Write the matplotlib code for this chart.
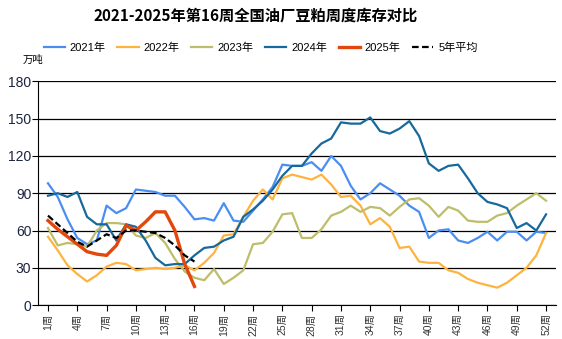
"""
plot.py

Weekly soybean meal stock at national oil mills, 2021-2025 (week 16).
"""

import matplotlib

matplotlib.use("Agg")

import matplotlib.pyplot as plt


plt.rcParams["font.family"] = ["Liberation Sans", "Noto Sans CJK SC", "DejaVu Sans"]

weeks_2021 = list(range(1, 53))
stock_2021 = [
    98, 87, 69, 54, 49, 52, 80, 74, 78, 93, 92, 91, 88, 88, 79, 69, 70, 68,
    82, 68, 67, 76, 85, 95, 113, 112, 112, 115, 108, 120, 112, 96, 85, 90,
    98, 93, 88, 80, 75, 54, 60, 61, 52, 50, 54, 59, 52, 59, 59, 52, 59, 58,
]

weeks_2022 = list(range(1, 53))
stock_2022 = [
    55, 44, 32, 25, 19, 24, 31, 34, 33, 28, 29, 30, 29, 30, 32, 28, 34, 42,
    56, 57, 71, 84, 93, 85, 102, 105, 103, 101, 105, 97, 87, 88, 80, 65,
    70, 63, 46, 47, 35, 34, 34, 28, 26, 21, 18, 16, 14, 18, 24, 30, 40, 58,
]

weeks_2023 = list(range(1, 53))
stock_2023 = [
    62, 48, 50, 49, 47, 60, 66, 66, 65, 56, 54, 58, 50, 37, 27, 22, 20, 29,
    17, 22, 28, 49, 50, 59, 73, 74, 54, 54, 61, 72, 75, 80, 75, 79, 78, 72,
    79, 85, 86, 80, 71, 79, 76, 68, 67, 67, 72, 74, 80, 85, 90, 84,
]

weeks_2024 = list(range(1, 53))
stock_2024 = [
    88, 90, 87, 91, 71, 65, 65, 52, 65, 63, 52, 38, 32, 33, 33, 40, 46, 47,
    52, 55, 71, 77, 84, 93, 104, 112, 112, 122, 130, 134, 147, 146, 146,
    151, 140, 138, 142, 148, 136, 114, 108, 112, 113, 102, 90, 83, 81, 78,
    62, 66, 60, 73,
]

weeks_2025 = list(range(1, 17))
stock_2025 = [68, 61, 55, 49, 43, 41, 40, 48, 64, 60, 67, 75, 75, 60, 33, 15]

weeks_avg = list(range(1, 17))
stock_avg = [72, 65, 58, 51, 47, 52, 57, 54, 60, 60, 59, 58, 54, 48, 40, 35]

tick_weeks = list(range(1, 53, 3))
tick_labels = [f"{w}周" for w in tick_weeks]
y_ticks = [0, 30, 60, 90, 120, 150, 180]


def plot_stock_chart():
    """
    Draw the five yearly curves plus the 5-year average and save out.png.
    """

    fig = plt.figure(figsize=(5.62, 3.39), dpi=100)
    ax = fig.add_axes([0.068, 0.100, 0.921, 0.660])

    ax.plot(weeks_2021, stock_2021, color="#4a8ef2", linewidth=1.6, label="2021年")
    ax.plot(weeks_2022, stock_2022, color="#ffb33f", linewidth=1.6, label="2022年")
    ax.plot(weeks_2023, stock_2023, color="#bdbd6c", linewidth=1.6, label="2023年")
    ax.plot(weeks_2024, stock_2024, color="#17699c", linewidth=1.6, label="2024年")
    ax.plot(weeks_2025, stock_2025, color="#e2480c", linewidth=2.4, label="2025年")
    ax.plot(
        weeks_avg,
        stock_avg,
        color="black",
        linewidth=1.6,
        linestyle=(0, (3, 1.5)),
        label="5年平均",
    )

    ax.set_xlim(0, 53)
    ax.set_ylim(0, 180)

    ax.set_yticks(y_ticks)
    ax.set_xticks(tick_weeks)
    ax.set_xticklabels(tick_labels, rotation=90, fontsize=7.5, color="#333333")

    ax.tick_params(axis="y", labelsize=10, labelcolor="#1c2440", length=4, width=0.8, pad=1)
    ax.tick_params(axis="x", length=4, width=0.8, pad=2)

    ax.grid(True, axis="y", color="black", linewidth=0.9)
    ax.set_axisbelow(True)

    for side in ["top", "right"]:
        ax.spines[side].set_visible(False)
    ax.spines["left"].set_color("black")
    ax.spines["bottom"].set_color("black")

    fig.text(
        0.455,
        0.955,
        "2021-2025年第16周全国油厂豆粕周度库存对比",
        ha="center",
        va="center",
        fontsize=11,
        fontweight="bold",
        family=["Noto Sans CJK SC", "DejaVu Sans"],
    )

    fig.text(0.041, 0.822, "万吨", ha="left", va="center", fontsize=7.5)

    fig.legend(
        loc="center left",
        bbox_to_anchor=(0.06, 0.858),
        ncol=6,
        frameon=False,
        fontsize=8,
        handlelength=1.9,
        handletextpad=0.45,
        columnspacing=1.05,
    )

    fig.savefig("out.png", dpi=100)


if __name__ == "__main__":
    plot_stock_chart()
